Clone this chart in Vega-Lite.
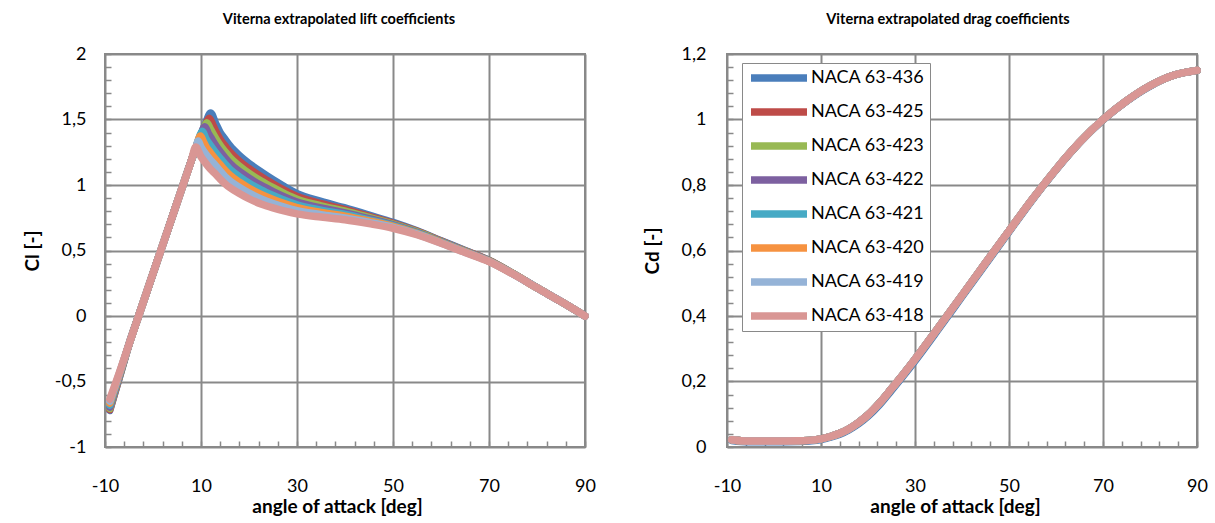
{
  "$schema": "https://vega.github.io/schema/vega-lite/v6.json",
  "background": "white",
  "padding": {"left": 22, "top": 10, "right": 5, "bottom": 5},
  "bounds": "flush",
  "spacing": 142,
  "config": {
    "font": "Lato",
    "view": {"stroke": "#898989", "strokeWidth": 2},
    "axis": {"domain": false, "gridColor": "#898989", "gridWidth": 2, "tickColor": "#898989", "tickWidth": 1.5, "tickSize": -6, "labelFontSize": 18, "labelColor": "#000", "titleFontSize": 19, "titleColor": "#000", "titleFontWeight": "bold", "labelOverlap": false, "labelFlush": false, "labelBound": false},
    "title": {"fontSize": 14.5, "fontWeight": "bold", "color": "#000", "frame": "group", "baseline": "middle", "offset": 18},
    "line": {"strokeWidth": 7.5, "strokeCap": "round", "strokeJoin": "round", "interpolate": "monotone"}
  },
  "datasets": {
    "lift": [
      {"s":"NACA 63-436","a":-9,"v":-0.72},{"s":"NACA 63-436","a":-7,"v":-0.47},{"s":"NACA 63-436","a":-5,"v":-0.216},{"s":"NACA 63-436","a":-3,"v":0},{"s":"NACA 63-436","a":0,"v":0.324},{"s":"NACA 63-436","a":3,"v":0.648},{"s":"NACA 63-436","a":6,"v":0.972},{"s":"NACA 63-436","a":8,"v":1.188},{"s":"NACA 63-436","a":9,"v":1.29},{"s":"NACA 63-436","a":10,"v":1.385},{"s":"NACA 63-436","a":11,"v":1.475},{"s":"NACA 63-436","a":12,"v":1.55},{"s":"NACA 63-436","a":13,"v":1.475},{"s":"NACA 63-436","a":14,"v":1.4},{"s":"NACA 63-436","a":15,"v":1.35},{"s":"NACA 63-436","a":16,"v":1.3},{"s":"NACA 63-436","a":18,"v":1.225},{"s":"NACA 63-436","a":20,"v":1.165},{"s":"NACA 63-436","a":22.5,"v":1.1},{"s":"NACA 63-436","a":25,"v":1.04},{"s":"NACA 63-436","a":27.5,"v":0.985},{"s":"NACA 63-436","a":30,"v":0.935},{"s":"NACA 63-436","a":35,"v":0.875},{"s":"NACA 63-436","a":40,"v":0.825},{"s":"NACA 63-436","a":45,"v":0.77},{"s":"NACA 63-436","a":50,"v":0.715},{"s":"NACA 63-436","a":55,"v":0.65},{"s":"NACA 63-436","a":60,"v":0.575},{"s":"NACA 63-436","a":65,"v":0.5},{"s":"NACA 63-436","a":70,"v":0.425},{"s":"NACA 63-436","a":75,"v":0.325},{"s":"NACA 63-436","a":80,"v":0.215},{"s":"NACA 63-436","a":85,"v":0.11},{"s":"NACA 63-436","a":90,"v":0},
      {"s":"NACA 63-425","a":-9,"v":-0.715},{"s":"NACA 63-425","a":-7,"v":-0.465},{"s":"NACA 63-425","a":-5,"v":-0.216},{"s":"NACA 63-425","a":-3,"v":0},{"s":"NACA 63-425","a":0,"v":0.324},{"s":"NACA 63-425","a":3,"v":0.648},{"s":"NACA 63-425","a":6,"v":0.972},{"s":"NACA 63-425","a":8,"v":1.188},{"s":"NACA 63-425","a":9,"v":1.29},{"s":"NACA 63-425","a":10,"v":1.38},{"s":"NACA 63-425","a":11,"v":1.465},{"s":"NACA 63-425","a":11.7,"v":1.51},{"s":"NACA 63-425","a":12.5,"v":1.455},{"s":"NACA 63-425","a":13,"v":1.415},{"s":"NACA 63-425","a":14,"v":1.348},{"s":"NACA 63-425","a":15,"v":1.299},{"s":"NACA 63-425","a":16,"v":1.252},{"s":"NACA 63-425","a":18,"v":1.181},{"s":"NACA 63-425","a":20,"v":1.125},{"s":"NACA 63-425","a":22.5,"v":1.063},{"s":"NACA 63-425","a":25,"v":1.008},{"s":"NACA 63-425","a":27.5,"v":0.957},{"s":"NACA 63-425","a":30,"v":0.912},{"s":"NACA 63-425","a":35,"v":0.857},{"s":"NACA 63-425","a":40,"v":0.812},{"s":"NACA 63-425","a":45,"v":0.76},{"s":"NACA 63-425","a":50,"v":0.708},{"s":"NACA 63-425","a":55,"v":0.646},{"s":"NACA 63-425","a":60,"v":0.572},{"s":"NACA 63-425","a":65,"v":0.498},{"s":"NACA 63-425","a":70,"v":0.424},{"s":"NACA 63-425","a":75,"v":0.324},{"s":"NACA 63-425","a":80,"v":0.215},{"s":"NACA 63-425","a":85,"v":0.11},{"s":"NACA 63-425","a":90,"v":0},
      {"s":"NACA 63-423","a":-9,"v":-0.705},{"s":"NACA 63-423","a":-7,"v":-0.46},{"s":"NACA 63-423","a":-5,"v":-0.216},{"s":"NACA 63-423","a":-3,"v":0},{"s":"NACA 63-423","a":0,"v":0.324},{"s":"NACA 63-423","a":3,"v":0.648},{"s":"NACA 63-423","a":6,"v":0.972},{"s":"NACA 63-423","a":8,"v":1.188},{"s":"NACA 63-423","a":9,"v":1.29},{"s":"NACA 63-423","a":10,"v":1.38},{"s":"NACA 63-423","a":10.6,"v":1.43},{"s":"NACA 63-423","a":11.2,"v":1.475},{"s":"NACA 63-423","a":12,"v":1.425},{"s":"NACA 63-423","a":13,"v":1.36},{"s":"NACA 63-423","a":14,"v":1.302},{"s":"NACA 63-423","a":15,"v":1.255},{"s":"NACA 63-423","a":16,"v":1.21},{"s":"NACA 63-423","a":18,"v":1.144},{"s":"NACA 63-423","a":20,"v":1.089},{"s":"NACA 63-423","a":22.5,"v":1.031},{"s":"NACA 63-423","a":25,"v":0.98},{"s":"NACA 63-423","a":27.5,"v":0.933},{"s":"NACA 63-423","a":30,"v":0.892},{"s":"NACA 63-423","a":35,"v":0.841},{"s":"NACA 63-423","a":40,"v":0.8},{"s":"NACA 63-423","a":45,"v":0.752},{"s":"NACA 63-423","a":50,"v":0.702},{"s":"NACA 63-423","a":55,"v":0.642},{"s":"NACA 63-423","a":60,"v":0.569},{"s":"NACA 63-423","a":65,"v":0.496},{"s":"NACA 63-423","a":70,"v":0.422},{"s":"NACA 63-423","a":75,"v":0.324},{"s":"NACA 63-423","a":80,"v":0.215},{"s":"NACA 63-423","a":85,"v":0.11},{"s":"NACA 63-423","a":90,"v":0},
      {"s":"NACA 63-422","a":-9,"v":-0.695},{"s":"NACA 63-422","a":-7,"v":-0.455},{"s":"NACA 63-422","a":-5,"v":-0.216},{"s":"NACA 63-422","a":-3,"v":0},{"s":"NACA 63-422","a":0,"v":0.324},{"s":"NACA 63-422","a":3,"v":0.648},{"s":"NACA 63-422","a":6,"v":0.972},{"s":"NACA 63-422","a":8,"v":1.188},{"s":"NACA 63-422","a":9,"v":1.29},{"s":"NACA 63-422","a":10,"v":1.385},{"s":"NACA 63-422","a":10.8,"v":1.445},{"s":"NACA 63-422","a":11.5,"v":1.395},{"s":"NACA 63-422","a":12,"v":1.365},{"s":"NACA 63-422","a":13,"v":1.305},{"s":"NACA 63-422","a":14,"v":1.253},{"s":"NACA 63-422","a":15,"v":1.207},{"s":"NACA 63-422","a":16,"v":1.166},{"s":"NACA 63-422","a":18,"v":1.103},{"s":"NACA 63-422","a":20,"v":1.052},{"s":"NACA 63-422","a":22.5,"v":0.997},{"s":"NACA 63-422","a":25,"v":0.95},{"s":"NACA 63-422","a":27.5,"v":0.907},{"s":"NACA 63-422","a":30,"v":0.87},{"s":"NACA 63-422","a":35,"v":0.825},{"s":"NACA 63-422","a":40,"v":0.787},{"s":"NACA 63-422","a":45,"v":0.743},{"s":"NACA 63-422","a":50,"v":0.696},{"s":"NACA 63-422","a":55,"v":0.637},{"s":"NACA 63-422","a":60,"v":0.567},{"s":"NACA 63-422","a":65,"v":0.494},{"s":"NACA 63-422","a":70,"v":0.421},{"s":"NACA 63-422","a":75,"v":0.323},{"s":"NACA 63-422","a":80,"v":0.215},{"s":"NACA 63-422","a":85,"v":0.11},{"s":"NACA 63-422","a":90,"v":0},
      {"s":"NACA 63-421","a":-9,"v":-0.68},{"s":"NACA 63-421","a":-7,"v":-0.448},{"s":"NACA 63-421","a":-5,"v":-0.216},{"s":"NACA 63-421","a":-3,"v":0},{"s":"NACA 63-421","a":0,"v":0.324},{"s":"NACA 63-421","a":3,"v":0.648},{"s":"NACA 63-421","a":6,"v":0.972},{"s":"NACA 63-421","a":8,"v":1.188},{"s":"NACA 63-421","a":9,"v":1.29},{"s":"NACA 63-421","a":9.8,"v":1.38},{"s":"NACA 63-421","a":10.3,"v":1.41},{"s":"NACA 63-421","a":11,"v":1.355},{"s":"NACA 63-421","a":12,"v":1.3},{"s":"NACA 63-421","a":13,"v":1.25},{"s":"NACA 63-421","a":14,"v":1.204},{"s":"NACA 63-421","a":15,"v":1.16},{"s":"NACA 63-421","a":16,"v":1.121},{"s":"NACA 63-421","a":18,"v":1.063},{"s":"NACA 63-421","a":20,"v":1.014},{"s":"NACA 63-421","a":22.5,"v":0.963},{"s":"NACA 63-421","a":25,"v":0.92},{"s":"NACA 63-421","a":27.5,"v":0.881},{"s":"NACA 63-421","a":30,"v":0.848},{"s":"NACA 63-421","a":35,"v":0.808},{"s":"NACA 63-421","a":40,"v":0.775},{"s":"NACA 63-421","a":45,"v":0.734},{"s":"NACA 63-421","a":50,"v":0.69},{"s":"NACA 63-421","a":55,"v":0.633},{"s":"NACA 63-421","a":60,"v":0.564},{"s":"NACA 63-421","a":65,"v":0.492},{"s":"NACA 63-421","a":70,"v":0.419},{"s":"NACA 63-421","a":75,"v":0.322},{"s":"NACA 63-421","a":80,"v":0.215},{"s":"NACA 63-421","a":85,"v":0.11},{"s":"NACA 63-421","a":90,"v":0},
      {"s":"NACA 63-420","a":-9,"v":-0.665},{"s":"NACA 63-420","a":-7,"v":-0.442},{"s":"NACA 63-420","a":-5,"v":-0.216},{"s":"NACA 63-420","a":-3,"v":0},{"s":"NACA 63-420","a":0,"v":0.324},{"s":"NACA 63-420","a":3,"v":0.648},{"s":"NACA 63-420","a":6,"v":0.972},{"s":"NACA 63-420","a":8,"v":1.188},{"s":"NACA 63-420","a":9,"v":1.29},{"s":"NACA 63-420","a":9.9,"v":1.375},{"s":"NACA 63-420","a":10.5,"v":1.33},{"s":"NACA 63-420","a":11,"v":1.295},{"s":"NACA 63-420","a":12,"v":1.245},{"s":"NACA 63-420","a":13,"v":1.198},{"s":"NACA 63-420","a":14,"v":1.155},{"s":"NACA 63-420","a":15,"v":1.112},{"s":"NACA 63-420","a":16,"v":1.076},{"s":"NACA 63-420","a":18,"v":1.022},{"s":"NACA 63-420","a":20,"v":0.976},{"s":"NACA 63-420","a":22.5,"v":0.929},{"s":"NACA 63-420","a":25,"v":0.89},{"s":"NACA 63-420","a":27.5,"v":0.856},{"s":"NACA 63-420","a":30,"v":0.827},{"s":"NACA 63-420","a":35,"v":0.791},{"s":"NACA 63-420","a":40,"v":0.762},{"s":"NACA 63-420","a":45,"v":0.725},{"s":"NACA 63-420","a":50,"v":0.684},{"s":"NACA 63-420","a":55,"v":0.629},{"s":"NACA 63-420","a":60,"v":0.561},{"s":"NACA 63-420","a":65,"v":0.49},{"s":"NACA 63-420","a":70,"v":0.418},{"s":"NACA 63-420","a":75,"v":0.322},{"s":"NACA 63-420","a":80,"v":0.215},{"s":"NACA 63-420","a":85,"v":0.11},{"s":"NACA 63-420","a":90,"v":0},
      {"s":"NACA 63-419","a":-9,"v":-0.65},{"s":"NACA 63-419","a":-7,"v":-0.437},{"s":"NACA 63-419","a":-5,"v":-0.216},{"s":"NACA 63-419","a":-3,"v":0},{"s":"NACA 63-419","a":0,"v":0.324},{"s":"NACA 63-419","a":3,"v":0.648},{"s":"NACA 63-419","a":6,"v":0.972},{"s":"NACA 63-419","a":8,"v":1.188},{"s":"NACA 63-419","a":9,"v":1.29},{"s":"NACA 63-419","a":9.4,"v":1.335},{"s":"NACA 63-419","a":10,"v":1.29},{"s":"NACA 63-419","a":11,"v":1.235},{"s":"NACA 63-419","a":12,"v":1.19},{"s":"NACA 63-419","a":13,"v":1.15},{"s":"NACA 63-419","a":14,"v":1.106},{"s":"NACA 63-419","a":15,"v":1.064},{"s":"NACA 63-419","a":16,"v":1.031},{"s":"NACA 63-419","a":18,"v":0.981},{"s":"NACA 63-419","a":20,"v":0.938},{"s":"NACA 63-419","a":22.5,"v":0.894},{"s":"NACA 63-419","a":25,"v":0.859},{"s":"NACA 63-419","a":27.5,"v":0.83},{"s":"NACA 63-419","a":30,"v":0.805},{"s":"NACA 63-419","a":35,"v":0.774},{"s":"NACA 63-419","a":40,"v":0.749},{"s":"NACA 63-419","a":45,"v":0.715},{"s":"NACA 63-419","a":50,"v":0.677},{"s":"NACA 63-419","a":55,"v":0.625},{"s":"NACA 63-419","a":60,"v":0.558},{"s":"NACA 63-419","a":65,"v":0.487},{"s":"NACA 63-419","a":70,"v":0.417},{"s":"NACA 63-419","a":75,"v":0.321},{"s":"NACA 63-419","a":80,"v":0.215},{"s":"NACA 63-419","a":85,"v":0.11},{"s":"NACA 63-419","a":90,"v":0},
      {"s":"NACA 63-418","a":-9,"v":-0.635},{"s":"NACA 63-418","a":-7,"v":-0.432},{"s":"NACA 63-418","a":-5,"v":-0.216},{"s":"NACA 63-418","a":-3,"v":0},{"s":"NACA 63-418","a":0,"v":0.324},{"s":"NACA 63-418","a":3,"v":0.648},{"s":"NACA 63-418","a":6,"v":0.972},{"s":"NACA 63-418","a":8,"v":1.188},{"s":"NACA 63-418","a":8.9,"v":1.29},{"s":"NACA 63-418","a":10,"v":1.215},{"s":"NACA 63-418","a":11,"v":1.165},{"s":"NACA 63-418","a":12,"v":1.12},{"s":"NACA 63-418","a":13,"v":1.085},{"s":"NACA 63-418","a":14,"v":1.045},{"s":"NACA 63-418","a":15,"v":1.01},{"s":"NACA 63-418","a":16,"v":0.98},{"s":"NACA 63-418","a":18,"v":0.935},{"s":"NACA 63-418","a":20,"v":0.895},{"s":"NACA 63-418","a":22.5,"v":0.855},{"s":"NACA 63-418","a":25,"v":0.825},{"s":"NACA 63-418","a":27.5,"v":0.8},{"s":"NACA 63-418","a":30,"v":0.78},{"s":"NACA 63-418","a":35,"v":0.755},{"s":"NACA 63-418","a":40,"v":0.735},{"s":"NACA 63-418","a":45,"v":0.705},{"s":"NACA 63-418","a":50,"v":0.67},{"s":"NACA 63-418","a":55,"v":0.62},{"s":"NACA 63-418","a":60,"v":0.555},{"s":"NACA 63-418","a":65,"v":0.485},{"s":"NACA 63-418","a":70,"v":0.415},{"s":"NACA 63-418","a":75,"v":0.32},{"s":"NACA 63-418","a":80,"v":0.215},{"s":"NACA 63-418","a":85,"v":0.11},{"s":"NACA 63-418","a":90,"v":0}
    ],
    "drag": [
      {"s":"NACA 63-436","a":-9,"v":0.02},{"s":"NACA 63-436","a":-7,"v":0.017},{"s":"NACA 63-436","a":-5,"v":0.016},{"s":"NACA 63-436","a":0,"v":0.016},{"s":"NACA 63-436","a":5,"v":0.017},{"s":"NACA 63-436","a":8,"v":0.019},{"s":"NACA 63-436","a":10,"v":0.023},{"s":"NACA 63-436","a":12,"v":0.03},{"s":"NACA 63-436","a":14,"v":0.039},{"s":"NACA 63-436","a":16,"v":0.053},{"s":"NACA 63-436","a":18,"v":0.071},{"s":"NACA 63-436","a":20,"v":0.094},{"s":"NACA 63-436","a":22.5,"v":0.13},{"s":"NACA 63-436","a":25,"v":0.173},{"s":"NACA 63-436","a":27.5,"v":0.217},{"s":"NACA 63-436","a":30,"v":0.263},{"s":"NACA 63-436","a":35,"v":0.36},{"s":"NACA 63-436","a":40,"v":0.459},{"s":"NACA 63-436","a":45,"v":0.558},{"s":"NACA 63-436","a":50,"v":0.657},{"s":"NACA 63-436","a":55,"v":0.755},{"s":"NACA 63-436","a":60,"v":0.846},{"s":"NACA 63-436","a":65,"v":0.929},{"s":"NACA 63-436","a":70,"v":0.999},{"s":"NACA 63-436","a":75,"v":1.056},{"s":"NACA 63-436","a":80,"v":1.102},{"s":"NACA 63-436","a":85,"v":1.135},{"s":"NACA 63-436","a":90,"v":1.15},
      {"s":"NACA 63-425","a":-9,"v":0.022},{"s":"NACA 63-425","a":-7,"v":0.019},{"s":"NACA 63-425","a":-5,"v":0.018},{"s":"NACA 63-425","a":0,"v":0.018},{"s":"NACA 63-425","a":5,"v":0.019},{"s":"NACA 63-425","a":8,"v":0.021},{"s":"NACA 63-425","a":10,"v":0.025},{"s":"NACA 63-425","a":12,"v":0.032},{"s":"NACA 63-425","a":14,"v":0.042},{"s":"NACA 63-425","a":16,"v":0.056},{"s":"NACA 63-425","a":18,"v":0.075},{"s":"NACA 63-425","a":20,"v":0.098},{"s":"NACA 63-425","a":22.5,"v":0.135},{"s":"NACA 63-425","a":25,"v":0.178},{"s":"NACA 63-425","a":27.5,"v":0.222},{"s":"NACA 63-425","a":30,"v":0.268},{"s":"NACA 63-425","a":35,"v":0.365},{"s":"NACA 63-425","a":40,"v":0.463},{"s":"NACA 63-425","a":45,"v":0.562},{"s":"NACA 63-425","a":50,"v":0.66},{"s":"NACA 63-425","a":55,"v":0.757},{"s":"NACA 63-425","a":60,"v":0.848},{"s":"NACA 63-425","a":65,"v":0.93},{"s":"NACA 63-425","a":70,"v":1.0},{"s":"NACA 63-425","a":75,"v":1.057},{"s":"NACA 63-425","a":80,"v":1.103},{"s":"NACA 63-425","a":85,"v":1.135},{"s":"NACA 63-425","a":90,"v":1.15},
      {"s":"NACA 63-423","a":-9,"v":0.022},{"s":"NACA 63-423","a":-7,"v":0.019},{"s":"NACA 63-423","a":-5,"v":0.018},{"s":"NACA 63-423","a":0,"v":0.018},{"s":"NACA 63-423","a":5,"v":0.019},{"s":"NACA 63-423","a":8,"v":0.021},{"s":"NACA 63-423","a":10,"v":0.025},{"s":"NACA 63-423","a":12,"v":0.032},{"s":"NACA 63-423","a":14,"v":0.042},{"s":"NACA 63-423","a":16,"v":0.056},{"s":"NACA 63-423","a":18,"v":0.075},{"s":"NACA 63-423","a":20,"v":0.098},{"s":"NACA 63-423","a":22.5,"v":0.135},{"s":"NACA 63-423","a":25,"v":0.178},{"s":"NACA 63-423","a":27.5,"v":0.222},{"s":"NACA 63-423","a":30,"v":0.268},{"s":"NACA 63-423","a":35,"v":0.365},{"s":"NACA 63-423","a":40,"v":0.463},{"s":"NACA 63-423","a":45,"v":0.562},{"s":"NACA 63-423","a":50,"v":0.66},{"s":"NACA 63-423","a":55,"v":0.757},{"s":"NACA 63-423","a":60,"v":0.848},{"s":"NACA 63-423","a":65,"v":0.93},{"s":"NACA 63-423","a":70,"v":1.0},{"s":"NACA 63-423","a":75,"v":1.057},{"s":"NACA 63-423","a":80,"v":1.103},{"s":"NACA 63-423","a":85,"v":1.135},{"s":"NACA 63-423","a":90,"v":1.15},
      {"s":"NACA 63-422","a":-9,"v":0.022},{"s":"NACA 63-422","a":-7,"v":0.019},{"s":"NACA 63-422","a":-5,"v":0.018},{"s":"NACA 63-422","a":0,"v":0.018},{"s":"NACA 63-422","a":5,"v":0.019},{"s":"NACA 63-422","a":8,"v":0.021},{"s":"NACA 63-422","a":10,"v":0.025},{"s":"NACA 63-422","a":12,"v":0.032},{"s":"NACA 63-422","a":14,"v":0.042},{"s":"NACA 63-422","a":16,"v":0.056},{"s":"NACA 63-422","a":18,"v":0.075},{"s":"NACA 63-422","a":20,"v":0.098},{"s":"NACA 63-422","a":22.5,"v":0.135},{"s":"NACA 63-422","a":25,"v":0.178},{"s":"NACA 63-422","a":27.5,"v":0.222},{"s":"NACA 63-422","a":30,"v":0.268},{"s":"NACA 63-422","a":35,"v":0.365},{"s":"NACA 63-422","a":40,"v":0.463},{"s":"NACA 63-422","a":45,"v":0.562},{"s":"NACA 63-422","a":50,"v":0.66},{"s":"NACA 63-422","a":55,"v":0.757},{"s":"NACA 63-422","a":60,"v":0.848},{"s":"NACA 63-422","a":65,"v":0.93},{"s":"NACA 63-422","a":70,"v":1.0},{"s":"NACA 63-422","a":75,"v":1.057},{"s":"NACA 63-422","a":80,"v":1.103},{"s":"NACA 63-422","a":85,"v":1.135},{"s":"NACA 63-422","a":90,"v":1.15},
      {"s":"NACA 63-421","a":-9,"v":0.022},{"s":"NACA 63-421","a":-7,"v":0.019},{"s":"NACA 63-421","a":-5,"v":0.018},{"s":"NACA 63-421","a":0,"v":0.018},{"s":"NACA 63-421","a":5,"v":0.019},{"s":"NACA 63-421","a":8,"v":0.021},{"s":"NACA 63-421","a":10,"v":0.025},{"s":"NACA 63-421","a":12,"v":0.032},{"s":"NACA 63-421","a":14,"v":0.042},{"s":"NACA 63-421","a":16,"v":0.056},{"s":"NACA 63-421","a":18,"v":0.075},{"s":"NACA 63-421","a":20,"v":0.098},{"s":"NACA 63-421","a":22.5,"v":0.135},{"s":"NACA 63-421","a":25,"v":0.178},{"s":"NACA 63-421","a":27.5,"v":0.222},{"s":"NACA 63-421","a":30,"v":0.268},{"s":"NACA 63-421","a":35,"v":0.365},{"s":"NACA 63-421","a":40,"v":0.463},{"s":"NACA 63-421","a":45,"v":0.562},{"s":"NACA 63-421","a":50,"v":0.66},{"s":"NACA 63-421","a":55,"v":0.757},{"s":"NACA 63-421","a":60,"v":0.848},{"s":"NACA 63-421","a":65,"v":0.93},{"s":"NACA 63-421","a":70,"v":1.0},{"s":"NACA 63-421","a":75,"v":1.057},{"s":"NACA 63-421","a":80,"v":1.103},{"s":"NACA 63-421","a":85,"v":1.135},{"s":"NACA 63-421","a":90,"v":1.15},
      {"s":"NACA 63-420","a":-9,"v":0.022},{"s":"NACA 63-420","a":-7,"v":0.019},{"s":"NACA 63-420","a":-5,"v":0.018},{"s":"NACA 63-420","a":0,"v":0.018},{"s":"NACA 63-420","a":5,"v":0.019},{"s":"NACA 63-420","a":8,"v":0.021},{"s":"NACA 63-420","a":10,"v":0.025},{"s":"NACA 63-420","a":12,"v":0.032},{"s":"NACA 63-420","a":14,"v":0.042},{"s":"NACA 63-420","a":16,"v":0.056},{"s":"NACA 63-420","a":18,"v":0.075},{"s":"NACA 63-420","a":20,"v":0.098},{"s":"NACA 63-420","a":22.5,"v":0.135},{"s":"NACA 63-420","a":25,"v":0.178},{"s":"NACA 63-420","a":27.5,"v":0.222},{"s":"NACA 63-420","a":30,"v":0.268},{"s":"NACA 63-420","a":35,"v":0.365},{"s":"NACA 63-420","a":40,"v":0.463},{"s":"NACA 63-420","a":45,"v":0.562},{"s":"NACA 63-420","a":50,"v":0.66},{"s":"NACA 63-420","a":55,"v":0.757},{"s":"NACA 63-420","a":60,"v":0.848},{"s":"NACA 63-420","a":65,"v":0.93},{"s":"NACA 63-420","a":70,"v":1.0},{"s":"NACA 63-420","a":75,"v":1.057},{"s":"NACA 63-420","a":80,"v":1.103},{"s":"NACA 63-420","a":85,"v":1.135},{"s":"NACA 63-420","a":90,"v":1.15},
      {"s":"NACA 63-419","a":-9,"v":0.022},{"s":"NACA 63-419","a":-7,"v":0.019},{"s":"NACA 63-419","a":-5,"v":0.018},{"s":"NACA 63-419","a":0,"v":0.018},{"s":"NACA 63-419","a":5,"v":0.019},{"s":"NACA 63-419","a":8,"v":0.021},{"s":"NACA 63-419","a":10,"v":0.025},{"s":"NACA 63-419","a":12,"v":0.032},{"s":"NACA 63-419","a":14,"v":0.042},{"s":"NACA 63-419","a":16,"v":0.056},{"s":"NACA 63-419","a":18,"v":0.075},{"s":"NACA 63-419","a":20,"v":0.098},{"s":"NACA 63-419","a":22.5,"v":0.135},{"s":"NACA 63-419","a":25,"v":0.178},{"s":"NACA 63-419","a":27.5,"v":0.222},{"s":"NACA 63-419","a":30,"v":0.268},{"s":"NACA 63-419","a":35,"v":0.365},{"s":"NACA 63-419","a":40,"v":0.463},{"s":"NACA 63-419","a":45,"v":0.562},{"s":"NACA 63-419","a":50,"v":0.66},{"s":"NACA 63-419","a":55,"v":0.757},{"s":"NACA 63-419","a":60,"v":0.848},{"s":"NACA 63-419","a":65,"v":0.93},{"s":"NACA 63-419","a":70,"v":1.0},{"s":"NACA 63-419","a":75,"v":1.057},{"s":"NACA 63-419","a":80,"v":1.103},{"s":"NACA 63-419","a":85,"v":1.135},{"s":"NACA 63-419","a":90,"v":1.15},
      {"s":"NACA 63-418","a":-9,"v":0.022},{"s":"NACA 63-418","a":-7,"v":0.019},{"s":"NACA 63-418","a":-5,"v":0.018},{"s":"NACA 63-418","a":0,"v":0.018},{"s":"NACA 63-418","a":5,"v":0.019},{"s":"NACA 63-418","a":8,"v":0.021},{"s":"NACA 63-418","a":10,"v":0.025},{"s":"NACA 63-418","a":12,"v":0.032},{"s":"NACA 63-418","a":14,"v":0.042},{"s":"NACA 63-418","a":16,"v":0.056},{"s":"NACA 63-418","a":18,"v":0.075},{"s":"NACA 63-418","a":20,"v":0.098},{"s":"NACA 63-418","a":22.5,"v":0.135},{"s":"NACA 63-418","a":25,"v":0.178},{"s":"NACA 63-418","a":27.5,"v":0.222},{"s":"NACA 63-418","a":30,"v":0.268},{"s":"NACA 63-418","a":35,"v":0.365},{"s":"NACA 63-418","a":40,"v":0.463},{"s":"NACA 63-418","a":45,"v":0.562},{"s":"NACA 63-418","a":50,"v":0.66},{"s":"NACA 63-418","a":55,"v":0.757},{"s":"NACA 63-418","a":60,"v":0.848},{"s":"NACA 63-418","a":65,"v":0.93},{"s":"NACA 63-418","a":70,"v":1.0},{"s":"NACA 63-418","a":75,"v":1.057},{"s":"NACA 63-418","a":80,"v":1.103},{"s":"NACA 63-418","a":85,"v":1.135},{"s":"NACA 63-418","a":90,"v":1.15}
    ]
  },
  "hconcat": [
    {
      "width": 480,
      "height": 393,
      "title": {"text": "Viterna extrapolated lift coefficients", "dx": -6},
      "data": {"name": "lift"},
      "mark": {"type": "line"},
      "encoding": {
        "x": {
          "field": "a", "type": "quantitative",
          "scale": {"domain": [-10, 90], "nice": false, "zero": false},
          "axis": {
            "title": "angle of attack [deg]",
            "values": [-10,-6,-2,2,6,10,14,18,22,26,30,34,38,42,46,50,54,58,62,66,70,74,78,82,86,90],
            "labelExpr": "(datum.value + 10) % 20 == 0 ? '' + datum.value : ''",
            "gridOpacity": {"condition": {"test": "(datum.value + 10) % 20 == 0", "value": 1}, "value": 0},
            "labelPadding": 36,
            "titleX": 232, "titleY": 59, "titleBaseline": "middle"
          }
        },
        "y": {
          "field": "v", "type": "quantitative",
          "scale": {"domain": [-1, 2], "nice": false, "zero": false},
          "axis": {
            "title": "Cl [-]",
            "values": [-1,-0.9,-0.8,-0.7,-0.6,-0.5,-0.4,-0.3,-0.2,-0.1,0,0.1,0.2,0.3,0.4,0.5,0.6,0.7,0.8,0.9,1,1.1,1.2,1.3,1.4,1.5,1.6,1.7,1.8,1.9,2],
            "labelExpr": "abs(datum.value*2 - round(datum.value*2)) < 0.001 ? replace('' + datum.value, '.', ',') : ''",
            "gridOpacity": {"condition": {"test": "abs(datum.value*2 - round(datum.value*2)) < 0.001", "value": 1}, "value": 0},
            "labelPadding": 25,
            "titleX": -73, "titleY": 196.5, "titleBaseline": "middle", "titleAngle": -90
          }
        },
        "color": {
          "field": "s", "type": "nominal",
          "scale": {"domain": ["NACA 63-436","NACA 63-425","NACA 63-423","NACA 63-422","NACA 63-421","NACA 63-420","NACA 63-419","NACA 63-418"],
                    "range": ["#4A7EBB","#BE4B48","#98B954","#7D60A0","#46AAC5","#F69240","#95B3D7","#D99694"]},
          "legend": null
        }
      }
    },
    {
      "width": 470,
      "height": 393,
      "title": {"text": "Viterna  extrapolated drag coefficients", "dx": -14},
      "data": {"name": "drag"},
      "mark": {"type": "line"},
      "encoding": {
        "x": {
          "field": "a", "type": "quantitative",
          "scale": {"domain": [-10, 90], "nice": false, "zero": false},
          "axis": {
            "title": "angle of attack [deg]",
            "values": [-10,-6,-2,2,6,10,14,18,22,26,30,34,38,42,46,50,54,58,62,66,70,74,78,82,86,90],
            "labelExpr": "(datum.value + 10) % 20 == 0 ? '' + datum.value : ''",
            "gridOpacity": {"condition": {"test": "(datum.value + 10) % 20 == 0", "value": 1}, "value": 0},
            "labelPadding": 36,
            "titleX": 228, "titleY": 59, "titleBaseline": "middle"
          }
        },
        "y": {
          "field": "v", "type": "quantitative",
          "scale": {"domain": [0, 1.2], "nice": false},
          "axis": {
            "title": "Cd [-]",
            "values": [0,0.04,0.08,0.12,0.16,0.2,0.24,0.28,0.32,0.36,0.4,0.44,0.48,0.52,0.56,0.6,0.64,0.68,0.72,0.76,0.8,0.84,0.88,0.92,0.96,1,1.04,1.08,1.12,1.16,1.2],
            "labelExpr": "abs(datum.value*5 - round(datum.value*5)) < 0.001 ? replace('' + datum.value, '.', ',') : ''",
            "gridOpacity": {"condition": {"test": "abs(datum.value*5 - round(datum.value*5)) < 0.001", "value": 1}, "value": 0},
            "labelPadding": 27,
            "titleX": -75, "titleY": 196.5, "titleBaseline": "middle", "titleAngle": -90
          }
        },
        "color": {
          "field": "s", "type": "nominal",
          "scale": {"domain": ["NACA 63-436","NACA 63-425","NACA 63-423","NACA 63-422","NACA 63-421","NACA 63-420","NACA 63-419","NACA 63-418"],
                    "range": ["#4A7EBB","#BE4B48","#98B954","#7D60A0","#46AAC5","#F69240","#95B3D7","#D99694"]},
          "legend": {
            "orient": "none", "legendX": 15, "legendY": 9, "title": null,
            "symbolType": "stroke", "symbolSize": 3136, "symbolStrokeWidth": 5,
            "labelFontSize": 18, "labelOffset": 0, "labelColor": "#000", "labelLimit": 200,
            "padding": 5, "strokeColor": "#898989", "fillColor": "white",
            "clipHeight": 20, "rowPadding": 14
          }
        }
      }
    }
  ],
  "resolve": {"scale": {"color": "independent"}}
}
